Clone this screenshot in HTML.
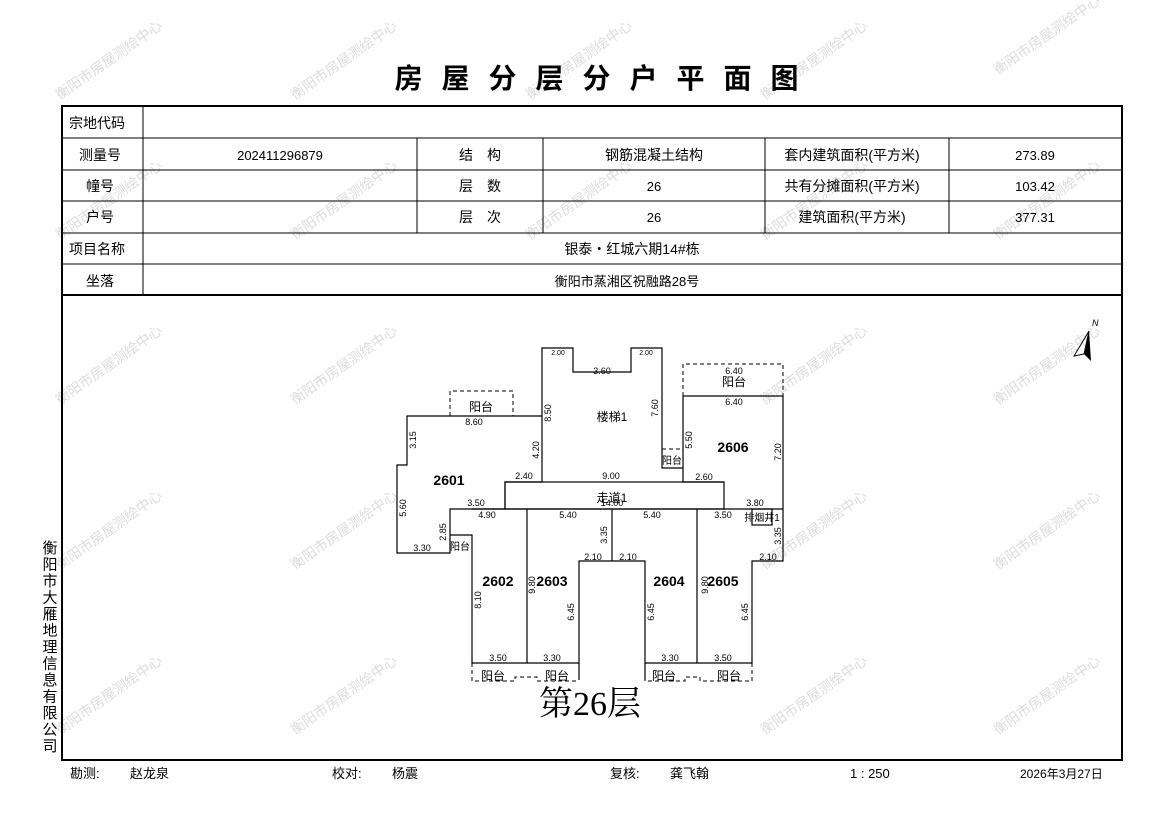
<!DOCTYPE html>
<html><head><meta charset="utf-8"><style>
html,body{margin:0;padding:0;background:#fff;}
svg{display:block;}
text{font-family:"Liberation Sans","Noto Sans CJK SC","WenQuanYi Zen Hei",sans-serif;fill:#000;}
.wm text{fill:#dcdcdc;font-size:14px;}
.c{font-size:14px;text-anchor:middle;}
.d{font-size:9px;text-anchor:middle;font-family:"Liberation Mono","Noto Sans CJK SC",monospace;fill:#222;}
.u{font-size:14px;font-weight:bold;text-anchor:middle;font-family:"Liberation Serif",serif;}
.r{font-size:12px;text-anchor:middle;}
</style></head><body>
<svg width="1169" height="827" viewBox="0 0 1169 827" xmlns="http://www.w3.org/2000/svg">
<g class="wm">
<text transform="translate(60,100) rotate(-35)">衡阳市房屋测绘中心</text>
<text transform="translate(295,100) rotate(-35)">衡阳市房屋测绘中心</text>
<text transform="translate(530,100) rotate(-35)">衡阳市房屋测绘中心</text>
<text transform="translate(765,100) rotate(-35)">衡阳市房屋测绘中心</text>
<text transform="translate(998,75) rotate(-35)">衡阳市房屋测绘中心</text>
<text transform="translate(60,240) rotate(-35)">衡阳市房屋测绘中心</text>
<text transform="translate(295,240) rotate(-35)">衡阳市房屋测绘中心</text>
<text transform="translate(530,240) rotate(-35)">衡阳市房屋测绘中心</text>
<text transform="translate(765,240) rotate(-35)">衡阳市房屋测绘中心</text>
<text transform="translate(998,240) rotate(-35)">衡阳市房屋测绘中心</text>
<text transform="translate(60,405) rotate(-35)">衡阳市房屋测绘中心</text>
<text transform="translate(295,405) rotate(-35)">衡阳市房屋测绘中心</text>
<text transform="translate(765,405) rotate(-35)">衡阳市房屋测绘中心</text>
<text transform="translate(998,405) rotate(-35)">衡阳市房屋测绘中心</text>
<text transform="translate(60,570) rotate(-35)">衡阳市房屋测绘中心</text>
<text transform="translate(295,570) rotate(-35)">衡阳市房屋测绘中心</text>
<text transform="translate(765,570) rotate(-35)">衡阳市房屋测绘中心</text>
<text transform="translate(998,570) rotate(-35)">衡阳市房屋测绘中心</text>
<text transform="translate(60,735) rotate(-35)">衡阳市房屋测绘中心</text>
<text transform="translate(295,735) rotate(-35)">衡阳市房屋测绘中心</text>
<text transform="translate(765,735) rotate(-35)">衡阳市房屋测绘中心</text>
<text transform="translate(998,735) rotate(-35)">衡阳市房屋测绘中心</text>
</g>
<text x="606" y="88" text-anchor="middle" style="font-size:28px;font-weight:bold;letter-spacing:19px;">房屋分层分户平面图</text>
<g stroke="#000" fill="none">
<rect x="62" y="106" width="1060" height="654" stroke-width="2"/>
<line x1="62" y1="295" x2="1122" y2="295" stroke-width="2"/>
<g stroke-width="1">
<line x1="62" y1="138" x2="1122" y2="138"/>
<line x1="62" y1="170" x2="1122" y2="170"/>
<line x1="62" y1="201" x2="1122" y2="201"/>
<line x1="62" y1="233" x2="1122" y2="233"/>
<line x1="62" y1="264" x2="1122" y2="264"/>
<line x1="143" y1="106" x2="143" y2="295"/>
<line x1="417" y1="138" x2="417" y2="233"/>
<line x1="543" y1="138" x2="543" y2="233"/>
<line x1="765" y1="138" x2="765" y2="233"/>
<line x1="949" y1="138" x2="949" y2="233"/>
</g></g>
<g class="c">
<text x="97" y="128">宗地代码</text>
<text x="100" y="160">测量号</text>
<text x="100" y="191">幢号</text>
<text x="100" y="222">户号</text>
<text x="97" y="254">项目名称</text>
<text x="100" y="286">坐落</text>
<text x="280" y="160" style="font-size:13px">202411296879</text>
<text x="480" y="160">结　构</text>
<text x="480" y="191">层　数</text>
<text x="480" y="222">层　次</text>
<text x="654" y="160">钢筋混凝土结构</text>
<text x="654" y="191" style="font-size:13px">26</text>
<text x="654" y="222" style="font-size:13px">26</text>
<text x="852" y="160">套内建筑面积(平方米)</text>
<text x="852" y="191">共有分摊面积(平方米)</text>
<text x="852" y="222">建筑面积(平方米)</text>
<text x="1035" y="160" style="font-size:13px">273.89</text>
<text x="1035" y="191" style="font-size:13px">103.42</text>
<text x="1035" y="222" style="font-size:13px">377.31</text>
<text x="632" y="254">银泰・红城六期14#栋</text>
<text x="627" y="286" style="font-size:13px">衡阳市蒸湘区祝融路28号</text>
</g>
<g style="font-size:15px" text-anchor="middle">
<text x="50" y="553">衡</text><text x="50" y="569.5">阳</text><text x="50" y="586">市</text><text x="50" y="602.5">大</text><text x="50" y="619">雁</text><text x="50" y="635.5">地</text><text x="50" y="652">理</text><text x="50" y="668.5">信</text><text x="50" y="685">息</text><text x="50" y="701.5">有</text><text x="50" y="718">限</text><text x="50" y="734.5">公</text><text x="50" y="751">司</text>
</g>
<g style="font-size:13px">
<text x="70" y="778">勘测:</text><text x="130" y="778">赵龙泉</text>
<text x="332" y="778">校对:</text><text x="392" y="778">杨震</text>
<text x="610" y="778">复核:</text><text x="670" y="778">龚飞翰</text>
<text x="850" y="778">1 : 250</text>
<text x="1020" y="778" style="font-size:12px">2026年3月27日</text>
</g>
<text x="1092" y="326" style="font-size:9px;font-style:italic">N</text>
<polygon points="1089,331 1074,356 1084,354" fill="none" stroke="#000"/>
<polygon points="1089,331 1084,354 1091,361" fill="#000"/>
<g stroke="#000" stroke-width="1.2" fill="none">
<polyline points="542,482 542,348 573,348 573,372 631,372 631,348 662,348 662,468 683,468"/>
<polyline points="542,416 407,416 407,465 397,465 397,553 450,553 450,509 505,509 505,482 542,482"/>
<rect x="505" y="482" width="219" height="27"/>
<polyline points="683,482 683,396 783,396 783,561 752,561 752,663 645,663 645,561 579,561 579,663 472,663 472,535 450,535"/>
<line x1="724" y1="482" x2="683" y2="482"/>
<line x1="472" y1="509" x2="783" y2="509"/>
<line x1="527" y1="509" x2="527" y2="663"/>
<line x1="612" y1="509" x2="612" y2="561"/>
<line x1="697" y1="509" x2="697" y2="663"/>
<line x1="579" y1="663" x2="579" y2="680"/>
<line x1="645" y1="663" x2="645" y2="680"/>
<rect x="752" y="509" width="20" height="16"/>
</g>
<g stroke="#000" stroke-width="1" fill="none" stroke-dasharray="4,3">
<polyline points="450,416 450,391 513,391 513,416"/>
<polyline points="683,396 683,364 783,364 783,396"/>
<polyline points="662,449 683,449"/>
<polyline points="450,535 450,553"/>
<polyline points="472,663 472,681 515,681 515,677 537,677 537,681 579,681"/>
<polyline points="645,663 645,681 685,681 685,677 700,677 700,681 752,681 752,663"/>
</g>
<g class="r">
<text x="612" y="421">楼梯1</text>
<text x="612" y="502">走道1</text>
<text x="481" y="411">阳台</text>
<text x="734" y="386">阳台</text>
<text x="672" y="464" style="font-size:10px">阳台</text>
<text x="460" y="550" style="font-size:10px">阳台</text>
<text x="762" y="521" style="font-size:10px">排烟井1</text>
<text x="493" y="680">阳台</text>
<text x="557" y="680">阳台</text>
<text x="664" y="680">阳台</text>
<text x="729" y="680">阳台</text>
</g>
<g class="u">
<text x="449" y="485">2601</text>
<text x="733" y="452">2606</text>
<text x="498" y="586">2602</text>
<text x="552" y="586">2603</text>
<text x="669" y="586">2604</text>
<text x="723" y="586">2605</text>
</g>
<g class="d">
<text x="558" y="355" style="font-size:7px">2.00</text><text x="646" y="355" style="font-size:7px">2.00</text>
<text x="602" y="374">3.60</text>
<text x="734" y="374">6.40</text><text x="734" y="405">6.40</text>
<text x="474" y="425">8.60</text>
<text x="524" y="479">2.40</text><text x="611" y="479">9.00</text><text x="704" y="480">2.60</text>
<text x="612" y="506">14.00</text>
<text x="476" y="506">3.50</text><text x="755" y="506">3.80</text>
<text x="487" y="518">4.90</text><text x="568" y="518">5.40</text><text x="652" y="518">5.40</text><text x="723" y="518">3.50</text>
<text x="422" y="551">3.30</text>
<text x="593" y="560">2.10</text><text x="628" y="560">2.10</text><text x="768" y="560">2.10</text>
<text x="498" y="661">3.50</text><text x="552" y="661">3.30</text><text x="670" y="661">3.30</text><text x="723" y="661">3.50</text>
<text transform="translate(416,440) rotate(-90)">3.15</text>
<text transform="translate(406,508) rotate(-90)">5.60</text>
<text transform="translate(446,532) rotate(-90)">2.85</text>
<text transform="translate(539,450) rotate(-90)">4.20</text>
<text transform="translate(551,413) rotate(-90)">8.50</text>
<text transform="translate(658,408) rotate(-90)">7.60</text>
<text transform="translate(692,440) rotate(-90)">5.50</text>
<text transform="translate(781,452) rotate(-90)">7.20</text>
<text transform="translate(781,536) rotate(-90)">3.35</text>
<text transform="translate(607,535) rotate(-90)">3.35</text>
<text transform="translate(481,600) rotate(-90)">8.10</text>
<text transform="translate(535,585) rotate(-90)">9.80</text>
<text transform="translate(708,585) rotate(-90)">9.80</text>
<text transform="translate(574,612) rotate(-90)">6.45</text>
<text transform="translate(654,612) rotate(-90)">6.45</text>
<text transform="translate(748,612) rotate(-90)">6.45</text>
</g>
<text x="590" y="715" text-anchor="middle" style="font-size:34px;font-family:'Liberation Serif','Noto Serif CJK SC',serif;">第26层</text>
</svg>
</body></html>
